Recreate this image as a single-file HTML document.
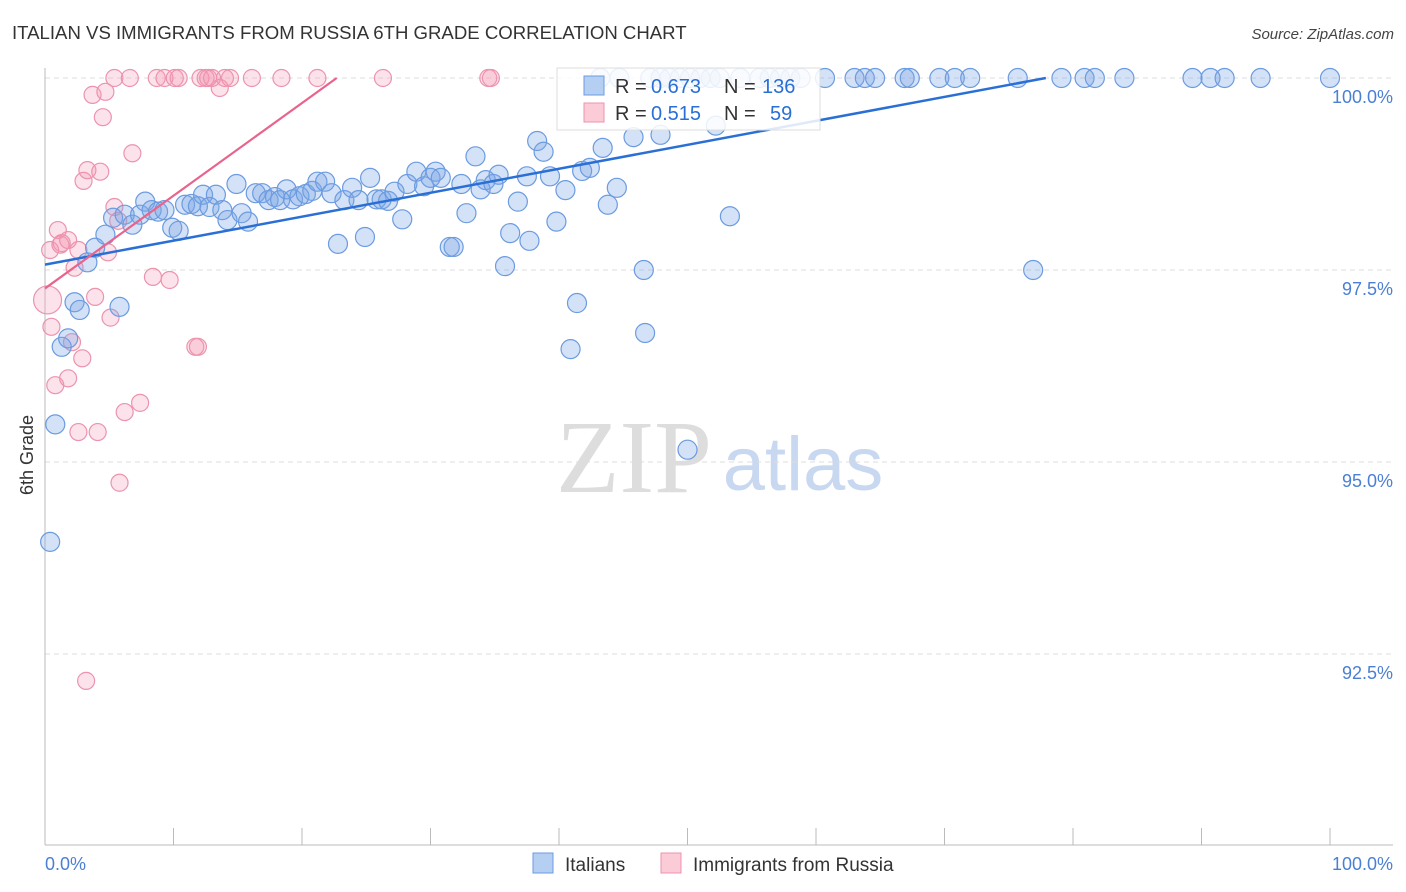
<!DOCTYPE html>
<html><head><meta charset="utf-8"><style>
body{margin:0;background:#fff;font-family:"Liberation Sans",sans-serif}
#wrap{position:relative;width:1406px;height:892px;overflow:hidden}
</style></head><body>
<div id="wrap">
<svg id="svg" width="1406" height="892"></svg>
</div>
<script>
const blueX=[0.4,0.8,1.3,1.8,2.3,2.7,3.3,3.9,4.7,5.3,5.8,6.2,6.8,7.4,7.8,8.3,8.8,9.3,9.9,10.4,10.9,11.4,11.9,12.3,12.8,13.3,13.8,14.2,14.9,15.3,15.8,16.4,16.9,17.4,17.9,18.3,18.8,19.3,19.8,20.3,20.8,21.2,21.8,22.3,22.8,23.3,23.9,24.4,24.9,25.3,25.8,26.2,26.7,27.2,27.8,28.2,28.9,29.5,30.0,30.4,30.8,31.5,31.8,32.4,32.8,33.5,33.9,34.3,34.9,35.3,35.8,36.2,36.8,37.5,37.7,38.3,38.8,39.3,39.8,40.5,40.9,41.4,41.8,42.4,43.4,43.8,44.5,45.8,46.6,46.7,47.9,50.0,52.2,53.3,76.9,
43.2,44.7,47.1,47.9,48.6,49.4,50.2,51.0,51.8,52.5,54.1,55.6,56.4,57.2,58.0,58.8,60.7,63.0,63.8,64.6,66.9,67.3,69.6,70.8,72.0,75.7,79.1,80.9,81.7,84.0,89.3,90.7,91.8,94.6,100];
const blueY=[93.96,95.49,96.50,96.61,97.08,96.98,97.60,97.79,97.96,98.18,97.02,98.22,98.09,98.22,98.39,98.28,98.26,98.28,98.05,98.01,98.35,98.36,98.33,98.48,98.32,98.48,98.28,98.15,98.62,98.24,98.13,98.50,98.50,98.41,98.45,98.41,98.55,98.42,98.46,98.49,98.53,98.65,98.65,98.50,97.84,98.41,98.57,98.41,97.93,98.70,98.42,98.42,98.40,98.52,98.16,98.62,98.78,98.59,98.70,98.78,98.70,97.80,97.80,98.62,98.24,98.98,98.55,98.67,98.62,98.74,97.55,97.98,98.39,98.72,97.88,99.18,99.04,98.72,98.13,98.54,96.47,97.07,98.79,98.83,99.09,98.35,98.57,99.23,97.50,96.68,99.26,95.16,99.38,98.20,97.50,
100,100,100,100,100,100,100,100,100,100,100,100,100,100,100,100,100,100,100,100,100,100,100,100,100,100,100,100,100,100,100,100,100,100,100];
const pinkX=[0.2,0.4,0.5,0.8,1.0,1.2,1.3,1.8,1.8,2.1,2.3,2.6,2.6,2.9,3.0,3.2,3.3,3.7,3.9,4.1,4.3,4.5,4.7,4.9,5.1,5.4,5.7,5.8,6.2,6.8,7.4,8.4,9.7,11.7,11.9,13.6,
5.4,6.6,8.7,9.3,10.1,10.4,12.1,12.5,12.7,13.0,14.0,14.4,16.1,18.4,21.2,26.3,34.5,34.7];
const pinkY=[97.11,97.76,96.76,96.00,98.02,97.83,97.85,97.89,96.09,96.56,97.53,97.76,95.39,96.35,98.66,92.15,98.80,99.78,97.15,95.39,98.78,99.49,99.82,97.73,96.88,98.32,98.14,94.73,95.65,99.02,95.77,97.41,97.37,96.50,96.50,99.87,
100,100,100,100,100,100,100,100,100,100,100,100,100,100,100,100,100,100];
const trendBlue=[97.57,0.0312];
const trendPink=[97.26,0.1207];
const yTicks=[100,97.5,95,92.5];
const yTickLabels=["100.0%","97.5%","95.0%","92.5%"];

const NS="http://www.w3.org/2000/svg";
const svg=document.getElementById('svg');
const X=v=>45+v*12.85;
const Y=v=>78+(100-v)*76.8;
function mk(tag,attrs,parent){const e=document.createElementNS(NS,tag);for(const k in attrs)e.setAttribute(k,attrs[k]);(parent||svg).appendChild(e);return e;}
function txt(s,attrs){const t=mk('text',attrs);t.textContent=s;return t;}

let t=txt("ITALIAN VS IMMIGRANTS FROM RUSSIA 6TH GRADE CORRELATION CHART",{x:12,y:39,'font-size':18.6,fill:'#333'});


t=txt("Source: ZipAtlas.com",{x:1394,y:39,'font-size':15,fill:'#444','font-style':'italic','text-anchor':'end'});


t=txt("6th Grade",{x:33,y:455,'font-size':18,fill:'#333','text-anchor':'middle',transform:'rotate(-90 33 455)'});



t=txt("ZIP",{x:634,y:492,'font-size':104,fill:'#ddd','font-family':'Liberation Serif','text-anchor':'middle'});


t=txt("atlas",{x:803,y:490,'font-size':76,fill:'#c8d8f0','text-anchor':'middle'});



yTicks.forEach((v,i)=>{
 const g=mk('line',{x1:45,x2:1393,y1:Y(v),y2:Y(v),stroke:'#ddd','stroke-dasharray':'5,4'});
 
 
 const l=txt(yTickLabels[i],{x:1393,y:Y(v)+25,'font-size':18,fill:'#4a7fd4','text-anchor':'end'});
 
 
});
let ax=mk('line',{x1:45,x2:45,y1:68,y2:845,stroke:'#bbb'});


ax=mk('line',{x1:45,x2:1393,y1:845,y2:845,stroke:'#bbb'});


for(let i=0;i<=10;i++){const tk=mk('line',{x1:X(i*10),x2:X(i*10),y1:828,y2:845,stroke:'#bbb'});
 
 }
t=txt("0.0%",{x:45,y:870,'font-size':18,fill:'#4a7fd4'});


t=txt("100.0%",{x:1393,y:870,'font-size':18,fill:'#4a7fd4','text-anchor':'end'});



pinkX.forEach((x,i)=>{const c=mk('circle',{cx:X(x),cy:Y(pinkY[i]),r:i===0?14:8.5,fill:'rgba(244,150,178,0.28)',stroke:'#ec93ad','stroke-width':1.2});
 
 });
blueX.forEach((x,i)=>{const c=mk('circle',{cx:X(x),cy:Y(blueY[i]),r:9.5,fill:'rgba(120,165,230,0.32)',stroke:'#6b9be0','stroke-width':1.2});
 
 });

const bEnd=(100-trendBlue[0])/trendBlue[1];
let ln=mk('line',{x1:X(0),y1:Y(trendBlue[0]),x2:X(bEnd),y2:Y(100),stroke:'#2a6fd6','stroke-width':2.5});


const pEnd=(100-trendPink[0])/trendPink[1];
ln=mk('line',{x1:X(0),y1:Y(trendPink[0]),x2:X(pEnd),y2:Y(100),stroke:'#e8648c','stroke-width':2.2});



let g=mk('g',{});


mk('rect',{x:557,y:68,width:263,height:62,fill:'rgba(255,255,255,0.85)',stroke:'#ddd'},g);
mk('rect',{x:584,y:76,width:20,height:19,fill:'#b5cff3',stroke:'#6b9be0'},g);
mk('rect',{x:584,y:103,width:20,height:19,fill:'#fccbd8',stroke:'#ec93ad'},g);
[["R = ",615,93,'#333'],["0.673",651,93,'#2a6fd6'],["N = ",724,93,'#333'],["136",762,93,'#2a6fd6'],
 ["R = ",615,120,'#333'],["0.515",651,120,'#2a6fd6'],["N = ",724,120,'#333'],["59",770,120,'#2a6fd6']].forEach(a=>{
 const e=mk('text',{x:a[1],y:a[2],'font-size':20,fill:a[3]},g);e.textContent=a[0];});

g=mk('g',{});


mk('rect',{x:533,y:853,width:20,height:20,fill:'#b5cff3',stroke:'#6b9be0'},g);
let e=mk('text',{x:565,y:871,'font-size':19,fill:'#333'},g);e.textContent="Italians";
mk('rect',{x:661,y:853,width:20,height:20,fill:'#fccbd8',stroke:'#ec93ad'},g);
e=mk('text',{x:693,y:871,'font-size':19,fill:'#333'},g);e.textContent="Immigrants from Russia";
</script>
</body></html>
